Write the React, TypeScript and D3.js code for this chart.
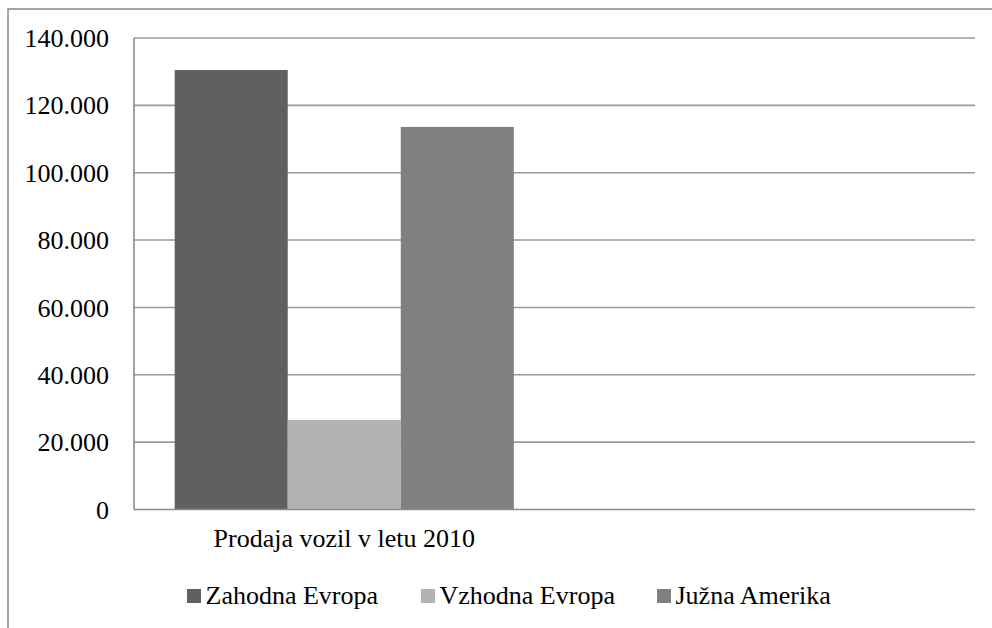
import React from "react";
import * as d3 from "d3";

const categories = ["Prodaja vozil v letu 2010", ""];
const seriesNames = ["Zahodna Evropa", "Vzhodna Evropa", "Južna Amerika"];
const seriesValues = [130500, 26600, 113600];
const seriesColors = ["#606060", "#b2b2b2", "#808080"];
const yTicks = [0, 20000, 40000, 60000, 80000, 100000, 120000, 140000];

const W = 992;
const H = 628;
const left = 134;
const right = 975;
const top = 38;
const bottom = 509.5;
const FONT = "'Liberation Serif', 'Times New Roman', serif";

const fmt = (v: number) => (v === 0 ? "0" : d3.format(",")(v).replace(/,/g, "."));

export default function App() {
  const y = d3.scaleLinear().domain([0, 140000]).range([bottom, top]);
  const x0 = d3.scaleBand<string>().domain(categories.map((c, i) => String(i))).range([left, right]).padding(0);
  const x1 = d3
    .scaleBand<string>()
    .domain(seriesNames)
    .range([0, x0.bandwidth()])
    .paddingInner(0)
    .paddingOuter(0.36);

  const legendX = [187, 421, 657];

  return (
    <svg
      width={W}
      height={H}
      style={{ position: "absolute", left: 0, top: 0, background: "#fff" }}
      fontFamily={FONT}
    >
      <rect x={8} y={9} width={W + 20} height={H + 20} fill="#fff" stroke="#888" strokeWidth={1.5} />
      {yTicks.map((t) => (
        <g key={t}>
          {t > 0 && (
            <line x1={left} x2={right} y1={y(t)} y2={y(t)} stroke="#9a9a9a" strokeWidth={1.6} />
          )}
          <text x={109} y={y(t)} dy="0.35em" textAnchor="end" fontSize={26} fill="#000">
            {fmt(t)}
          </text>
        </g>
      ))}
      {categories.map((c, ci) =>
        ci === 0
          ? seriesNames.map((s, si) => (
              <rect
                key={s}
                x={(x0(String(ci)) as number) + (x1(s) as number)}
                y={y(seriesValues[si])}
                width={x1.bandwidth()}
                height={y(0) - y(seriesValues[si])}
                fill={seriesColors[si]}
              />
            ))
          : null
      )}
      <line x1={left} x2={left} y1={top} y2={bottom} stroke="#8a8a8a" strokeWidth={1.6} />
      <line x1={left} x2={right} y1={bottom} y2={bottom} stroke="#8a8a8a" strokeWidth={1.6} />
      {categories.map((c, ci) => (
        <text
          key={ci}
          x={(x0(String(ci)) as number) + x0.bandwidth() / 2}
          y={547}
          textAnchor="middle"
          fontSize={26}
          fill="#000"
        >
          {c}
        </text>
      ))}
      {seriesNames.map((s, i) => (
        <g key={s}>
          <rect x={legendX[i]} y={589} width={14} height={14} fill={seriesColors[i]} />
          <text x={legendX[i] + 18.5} y={604} fontSize={26} fill="#000">
            {s}
          </text>
        </g>
      ))}
    </svg>
  );
}
